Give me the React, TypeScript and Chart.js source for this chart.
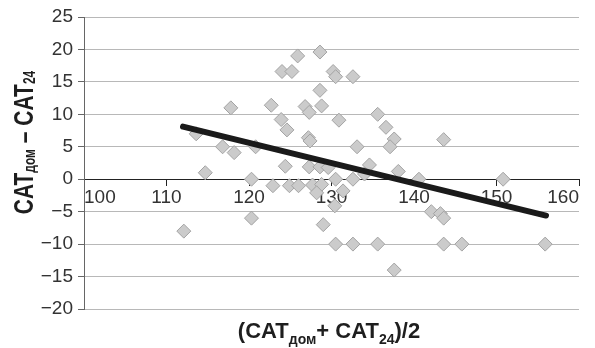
import React, { useEffect, useRef } from "react";
import { Chart, registerables } from "chart.js";

Chart.register(...registerables);

const xValues: number[] = [112.1, 113.6, 114.7, 116.8, 118.2, 117.8, 120.3, 120.3, 120.8, 122.7, 124.0, 125.2, 125.9, 123.9, 124.6, 124.4, 122.9, 124.9, 126.0, 126.8, 127.3, 128.8, 128.6, 128.6, 130.2, 130.5, 132.6, 130.9, 135.6, 136.6, 137.6, 137.1, 143.6, 127.2, 127.4, 133.1, 127.3, 128.6, 129.6, 134.6, 134.0, 138.1, 140.6, 127.7, 128.8, 130.5, 132.6, 128.2, 131.4, 130.4, 129.0, 142.1, 143.2, 143.6, 130.5, 132.6, 135.6, 143.6, 145.8, 137.6, 150.8, 155.9];
const yValues: number[] = [-8, 7, 1, 5, 4.1, 11, 0, -6, 5, 11.4, 16.6, 16.6, 19, 9.2, 7.6, 2, -1, -1, -1, 11.2, 10.3, 11.3, 19.6, 13.7, 16.6, 15.8, 15.8, 9.1, 10, 8, 6.2, 5, 6.1, 6.4, 5.9, 5, 1.9, 1.9, 1.8, 2.2, 0.8, 1.2, 0, -0.9, -0.8, 0, 0, -2.1, -1.8, -4.1, -7, -5, -5.3, -6, -10, -10, -10, -10, -10, -14, 0, -10];

const trendX: number[] = [112.0, 156.0];
const trendY: number[] = [8.1, -5.6];

const xTickValues: number[] = [100, 110, 120, 130, 140, 150, 160];
const yTickValues: number[] = [-20, -15, -10, -5, 0, 5, 10, 15, 20, 25];

const FONT = "'Liberation Sans', Arial, Helvetica, sans-serif";

const titlePlugin = {
  id: "subTitles",
  afterDraw(chart: any) {
    const ctx = chart.ctx as CanvasRenderingContext2D;
    ctx.save();
    ctx.fillStyle = "#1e1e1e";
    ctx.textBaseline = "alphabetic";
    ctx.textAlign = "left";

    // X title: (CAT_дом+ CAT_24)/2
    const mainX = `bold 22px ${FONT}`;
    const subX = `bold 14px ${FONT}`;
    const xParts: [string, boolean][] = [["(CAT", false], ["дом", true], ["+ CAT", false], ["24", true], [")/2", false]];
    let total = 0;
    const widths: number[] = [];
    for (const [t, s] of xParts) {
      ctx.font = s ? subX : mainX;
      const w = ctx.measureText(t).width;
      widths.push(w);
      total += w;
    }
    let cx = 329 - total / 2;
    const baseX = 338;
    xParts.forEach(([t, s], i) => {
      ctx.font = s ? subX : mainX;
      ctx.fillText(t, cx, s ? baseX + 6 : baseX);
      cx += widths[i];
    });

    // Y title: CAT_дом – CAT_24 (rotated)
    const mainY = `bold 21px ${FONT}`;
    const subY = `bold 12px ${FONT}`;
    const yParts: [string, boolean][] = [["CAT", false], ["дом", true], [" – CAT", false], ["24", true]];
    let totalY = 0;
    const wy: number[] = [];
    for (const [t, s] of yParts) {
      ctx.font = s ? subY : mainY;
      const w = ctx.measureText(t).width;
      wy.push(w);
      totalY += w;
    }
    const scaleH = 1.3;
    ctx.translate(33, 142.5 + totalY / 2);
    ctx.rotate(-Math.PI / 2);
    ctx.scale(1, scaleH);
    let px = 0;
    yParts.forEach(([t, s], i) => {
      ctx.font = s ? subY : mainY;
      ctx.fillText(t, px, s ? 2 / scaleH : 0);
      px += wy[i];
    });
    ctx.restore();
  },
};

export default function App() {
  const canvasRef = useRef<HTMLCanvasElement | null>(null);

  useEffect(() => {
    document.body.style.margin = "0";
    const canvas = canvasRef.current;
    if (!canvas) return;

    const points = xValues.map((x, i) => ({ x, y: yValues[i] }));
    const trend = trendX.map((x, i) => ({ x, y: trendY[i] }));

    const chart = new Chart(canvas, {
      type: "scatter",
      data: {
        datasets: [
          {
            label: "trend",
            data: trend,
            showLine: true,
            borderColor: "#1a1a1a",
            borderWidth: 6,
            borderCapStyle: "round",
            pointRadius: 0,
            order: 1,
          } as any,
          {
            label: "points",
            data: points,
            pointStyle: "rectRot",
            pointRadius: 7,
            backgroundColor: "#cbcbcb",
            borderColor: "#a3a3a3",
            borderWidth: 1,
            order: 2,
          } as any,
        ],
      },
      options: {
        animation: false,
        responsive: true,
        maintainAspectRatio: false,
        layout: { padding: { left: 0, right: 16, top: 17, bottom: 39 } },
        plugins: {
          legend: { display: false },
          tooltip: { enabled: false },
        },
        scales: {
          x: {
            type: "linear",
            position: { y: 0 } as any,
            min: 100,
            max: 160,
            afterBuildTicks: (axis: any) => {
              axis.ticks = xTickValues.map((v) => ({ value: v }));
            },
            grid: {
              display: true,
              drawOnChartArea: false,
              drawTicks: true,
              tickLength: 6,
              tickColor: "#222",
            },
            border: { display: true, color: "#222", width: 1 },
            ticks: {
              align: "inner",
              padding: 1,
              color: "#333",
              font: { family: FONT, size: 19 },
              maxRotation: 0,
              autoSkip: false,
            },
          },
          y: {
            type: "linear",
            position: "left",
            min: -20,
            max: 25,
            afterBuildTicks: (axis: any) => {
              axis.ticks = yTickValues.map((v) => ({ value: v }));
            },
            afterFit: (scale: any) => {
              scale.width = 84;
            },
            grid: {
              color: (c: any) => (c.tick && c.tick.value === 0 ? "#222" : "#b8b8b8"),
              lineWidth: 1,
              tickLength: 6,
              tickColor: "#666",
            },
            border: { display: true, color: "#666", width: 1 },
            ticks: {
              padding: 5,
              color: "#333",
              font: { family: FONT, size: 19 },
              callback: (v: any) => (Number(v) < 0 ? "\u2212" + Math.abs(Number(v)) : String(v)),
            },
          },
        },
      },
      plugins: [titlePlugin],
    });

    return () => {
      chart.destroy();
    };
  }, []);

  return (
    <div style={{ width: 595, height: 348, position: "relative", background: "#fff" }}>
      <canvas ref={canvasRef} />
    </div>
  );
}
